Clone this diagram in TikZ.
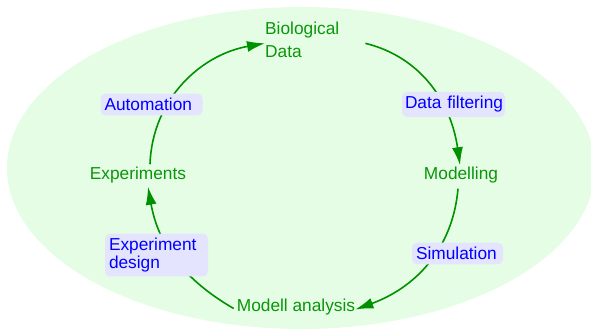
\documentclass[tikz,border=0pt]{standalone}
\usepackage{fontspec}
\setmainfont{Liberation Sans}
\usetikzlibrary{arrows.meta}
\definecolor{cyclegreen}{RGB}{0,145,0}
\definecolor{textgreen}{RGB}{10,150,10}
\definecolor{bgellipse}{RGB}{229,253,229}
\definecolor{labfill}{RGB}{228,228,255}
\tikzset{
  basefont/.style={font=\fontsize{17.3}{17.5}\selectfont},
  stage/.style={basefont, text=textgreen, inner sep=3pt, text height=12.5pt, text depth=3.6pt},
  labelbox/.style={basefont, text=blue, fill=labfill, rounded corners=5pt, align=left,
    inner xsep=4pt, inner ysep=4.5pt},
  cyc/.style={draw=cyclegreen, line width=1.6pt, -{Latex[length=18pt,width=11pt]}}
}
\begin{document}
\begin{tikzpicture}[x=1pt,y=1pt]
\useasboundingbox (0,0) rectangle (591,329);
\begin{scope}
\clip (0,0) rectangle (591,329);
\fill[bgellipse] (301,161) ellipse [x radius=294, y radius=161];
\end{scope}

\node[basefont, text=textgreen, inner sep=0pt, text width=100pt, align=left, anchor=base west] (bio) at (265,294) {Biological\\[5.5pt]Data};
\node[stage] (mod) at (461,153.5) {Modelling};
\node[stage] (ma) at (296,21.5) {Modell analysis};
\node[stage] (exp) at (138,153.5) {Experiments};

\draw[cyc] ([xshift=12pt]exp.north) to[out=88,in=190] ([yshift=-3pt]bio.west);
\draw[cyc] ([yshift=-3pt]bio.east) to[out=-14,in=98] ([xshift=-1pt,yshift=-1pt]mod.north);
\draw[cyc] ([xshift=-3pt,yshift=-2pt]mod.south) to[out=-95,in=20] ([xshift=-3pt,yshift=-2pt]ma.east);
\draw[cyc] ([yshift=-1pt]ma.west) to[out=150,in=-80] ([xshift=10pt]exp.south);

\node[labelbox, text width=94pt] (auto) at (151.5,224.5) {Automation};
\node[labelbox, inner xsep=3pt, text width=97pt] (filt) at (453.5,224.5) {\mbox{Data filtering}};
\node[labelbox, text width=83pt] (sim) at (457.5,75.5) {Simulation};
\node[labelbox, text width=95pt, font=\fontsize{17.3}{17.8}\selectfont] (design) at (156.5,74) {Experiment\\design};
\end{tikzpicture}
\end{document}
